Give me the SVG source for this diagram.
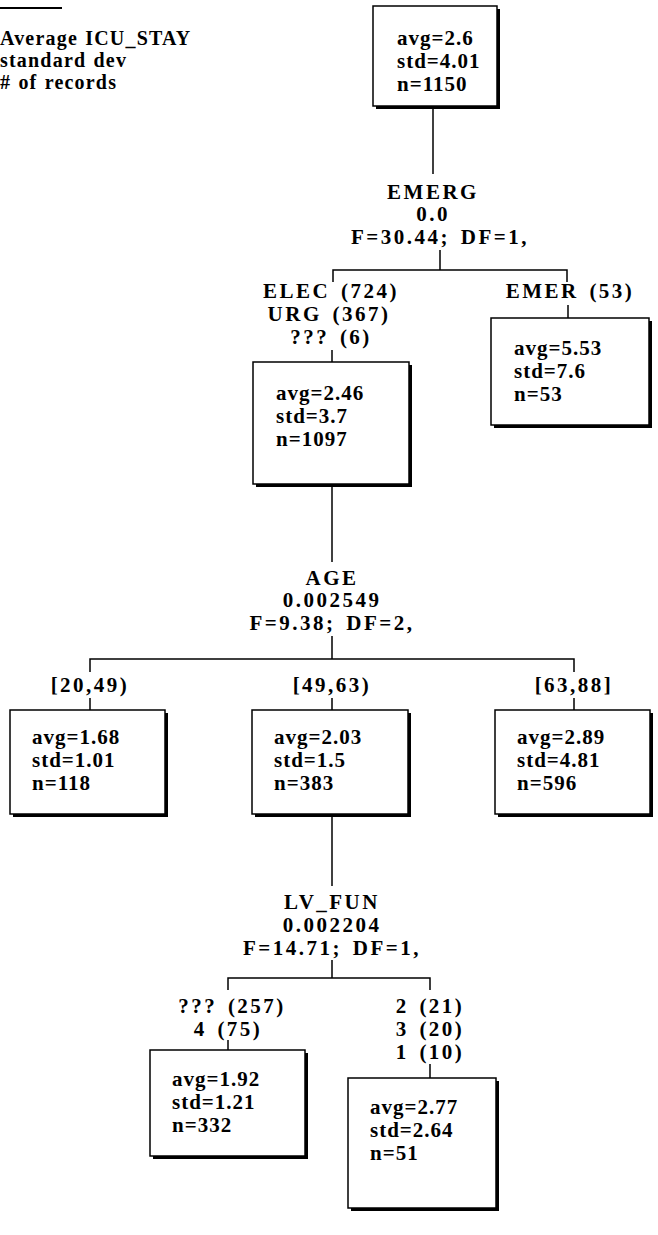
<svg xmlns="http://www.w3.org/2000/svg" width="658" height="1235" viewBox="0 0 658 1235">
<style>
text{font-family:"Liberation Serif","Times New Roman",serif;font-weight:bold;font-size:21px;fill:#000}
.lab{text-anchor:middle;letter-spacing:2.5px;word-spacing:3px}
.bt{letter-spacing:1px}
.leg{letter-spacing:1.2px;font-size:20px;word-spacing:1px}
.box{fill:#fff;stroke:#000;stroke-width:1.5}
.sh{fill:#000}
.c{stroke:#000;stroke-width:1.5;fill:none}
</style>
<rect width="658" height="1235" fill="#fff"/>
<g id="legend">
<line x1="0" y1="8" x2="62" y2="8" stroke="#000" stroke-width="2"/>
<text class="leg" x="0" y="45">Average ICU_STAY</text>
<text class="leg" x="0" y="67">standard dev</text>
<text class="leg" x="0" y="89"># of records</text>
</g>
<g id="connectors">
<path class="c" d="M433 106V174"/>
<path class="c" d="M440 250V270M333 282V270H567V282"/>
<path class="c" d="M332 350V362"/>
<path class="c" d="M568 305V318"/>
<path class="c" d="M332 484V562"/>
<path class="c" d="M332 636V659M90 672V659H574V672"/>
<path class="c" d="M90 698V710M332 698V710M574 698V710"/>
<path class="c" d="M332 814V886"/>
<path class="c" d="M332 960V978M228 990V978H430V990"/>
<path class="c" d="M228 1040V1050"/>
<path class="c" d="M430 1064V1078"/>
</g>
<g id="root">
<rect class="sh" x="376" y="9" width="124" height="100"/>
<rect class="box" x="373" y="6" width="124" height="100"/>
<text class="bt" x="397" y="45">avg=2.6</text>
<text class="bt" x="397" y="68">std=4.01</text>
<text class="bt" x="397" y="91">n=1150</text>
</g>
<g id="split-emerg">
<text class="lab" x="433" y="199">EMERG</text>
<text class="lab" x="433" y="221">0.0</text>
<text class="lab" x="440" y="244">F=30.44; DF=1,</text>
</g>
<g id="node-elec">
<text class="lab" x="331" y="298">ELEC (724)</text>
<text class="lab" x="329" y="321">URG (367)</text>
<text class="lab" x="331" y="344">??? (6)</text>
<rect class="sh" x="256" y="365" width="156" height="122"/>
<rect class="box" x="253" y="362" width="156" height="122"/>
<text class="bt" x="276" y="400">avg=2.46</text>
<text class="bt" x="276" y="423">std=3.7</text>
<text class="bt" x="276" y="446">n=1097</text>
</g>
<g id="node-emer">
<text class="lab" x="570" y="298">EMER (53)</text>
<rect class="sh" x="494" y="321" width="158" height="107"/>
<rect class="box" x="491" y="318" width="158" height="107"/>
<text class="bt" x="514" y="355">avg=5.53</text>
<text class="bt" x="514" y="378">std=7.6</text>
<text class="bt" x="514" y="401">n=53</text>
</g>
<g id="split-age">
<text class="lab" x="332" y="585">AGE</text>
<text class="lab" x="332" y="607">0.002549</text>
<text class="lab" x="332" y="630">F=9.38; DF=2,</text>
</g>
<g id="node-age1">
<text class="lab" x="90" y="692">[20,49)</text>
<rect class="sh" x="13" y="713" width="155" height="104"/>
<rect class="box" x="10" y="710" width="155" height="104"/>
<text class="bt" x="32" y="744">avg=1.68</text>
<text class="bt" x="32" y="767">std=1.01</text>
<text class="bt" x="32" y="790">n=118</text>
</g>
<g id="node-age2">
<text class="lab" x="332" y="692">[49,63)</text>
<rect class="sh" x="255" y="713" width="156" height="104"/>
<rect class="box" x="252" y="710" width="156" height="104"/>
<text class="bt" x="274" y="744">avg=2.03</text>
<text class="bt" x="274" y="767">std=1.5</text>
<text class="bt" x="274" y="790">n=383</text>
</g>
<g id="node-age3">
<text class="lab" x="574" y="692">[63,88]</text>
<rect class="sh" x="498" y="713" width="155" height="104"/>
<rect class="box" x="495" y="710" width="155" height="104"/>
<text class="bt" x="517" y="744">avg=2.89</text>
<text class="bt" x="517" y="767">std=4.81</text>
<text class="bt" x="517" y="790">n=596</text>
</g>
<g id="split-lvfun">
<text class="lab" x="332" y="909">LV_FUN</text>
<text class="lab" x="332" y="932">0.002204</text>
<text class="lab" x="332" y="955">F=14.71; DF=1,</text>
</g>
<g id="node-lv1">
<text class="lab" x="232" y="1013">??? (257)</text>
<text class="lab" x="228" y="1036">4 (75)</text>
<rect class="sh" x="153" y="1053" width="155" height="106"/>
<rect class="box" x="150" y="1050" width="155" height="106"/>
<text class="bt" x="172" y="1086">avg=1.92</text>
<text class="bt" x="172" y="1109">std=1.21</text>
<text class="bt" x="172" y="1132">n=332</text>
</g>
<g id="node-lv2">
<text class="lab" x="430" y="1013">2 (21)</text>
<text class="lab" x="430" y="1036">3 (20)</text>
<text class="lab" x="430" y="1059">1 (10)</text>
<rect class="sh" x="351" y="1081" width="148" height="130"/>
<rect class="box" x="348" y="1078" width="148" height="130"/>
<text class="bt" x="370" y="1114">avg=2.77</text>
<text class="bt" x="370" y="1137">std=2.64</text>
<text class="bt" x="370" y="1160">n=51</text>
</g>
</svg>
